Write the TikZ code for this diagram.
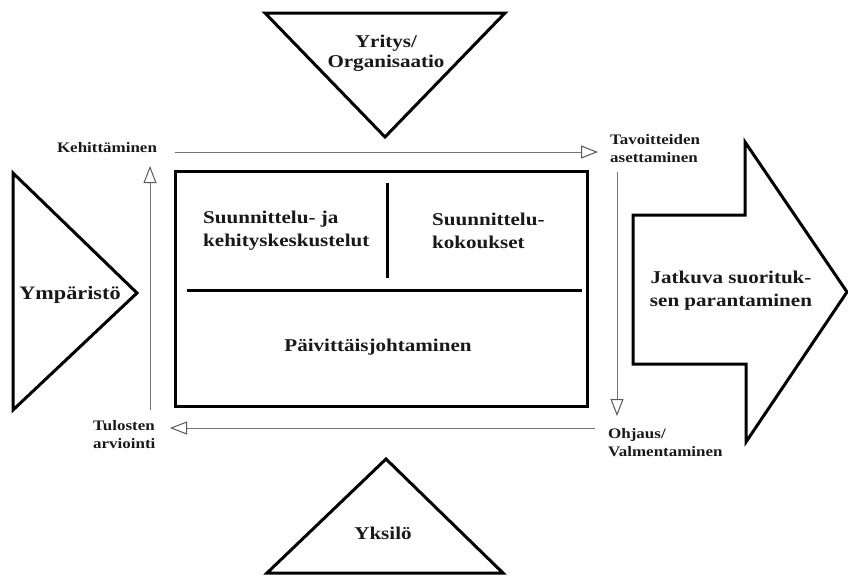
\documentclass[tikz,border=0pt]{standalone}
\usepackage{fontspec}
\setmainfont{Liberation Serif}[FakeStretch=1.17]
\usetikzlibrary{arrows.meta}
\begin{document}
\begin{tikzpicture}[x=1pt,y=-1pt,
  shapeline/.style={draw=black, line width=3pt, line join=miter},
  conn/.style={draw=black!55, line width=1pt, -{Triangle[length=17pt,width=13pt,fill=white,color=black!65]}},
  bigtext/.style={font=\fontsize{18}{23}\selectfont\bfseries, align=left, inner sep=0pt, text=black!90},
  smalltext/.style={font=\fontsize{14.5}{18}\selectfont\bfseries, align=left, inner sep=0pt, text=black!90}]
\useasboundingbox[fill=white] (0,0) rectangle (848,576);

% left triangle (Ympäristö)
\draw[shapeline] (13,173) -- (137,293) -- (13,410) -- cycle;
\node[bigtext, font=\fontsize{19}{23}\selectfont\bfseries] (ymp) at (70,295) {Ympäristö};

% top triangle
\draw[shapeline] (265,13) -- (505,13) -- (385,137) -- cycle;
\node[bigtext, align=center, font=\fontsize{18}{20}\selectfont\bfseries] (yri) at (386,53) {Yritys/\\Organisaatio};

% bottom triangle
\draw[shapeline] (386,459) -- (503,573) -- (267,573) -- cycle;
\node[bigtext] (yks) at (383,533) {Yksilö};

% right arrow
\draw[shapeline] (633,215) -- (745,215) -- (745,142) -- (847,292) -- (746,442) -- (746,364) -- (633,364) -- cycle;
\node[bigtext, align=center] (jat) at (731,290.5) {Jatkuva suorituk-\\sen parantaminen};

% main box
\draw[shapeline] (175,171) rectangle (587,406);
\draw[black, line width=3pt] (187,290) -- (582,290);
\draw[black, line width=3pt] (387,183) -- (387,278);
\node[bigtext, anchor=west] (suk) at (203,230.5) {Suunnittelu- ja\\kehityskeskustelut};
\node[bigtext, anchor=west] (suko) at (432,230.5) {Suunnittelu-\\kokoukset};
\node[bigtext] (paiv) at (378,347) {Päivittäisjohtaminen};

% labels
\node[smalltext] (keh) at (107,148) {Kehittäminen};
\node[smalltext, anchor=west] (tav) at (610,148.5) {Tavoitteiden\\asettaminen};
\node[smalltext, anchor=west] (tul) at (93,434.5) {Tulosten\\arviointi};
\node[smalltext, anchor=west] (ohj) at (608,442.5) {Ohjaus/\\Valmentaminen};

% connector end points
\coordinate (a1) at (175,152);
\coordinate (a2) at (598,152);
\coordinate (b1) at (617,172);
\coordinate (b2) at (617,416);
\coordinate (c1) at (595,428);
\coordinate (c2) at (170,428);
\coordinate (d1) at (150,410);
\coordinate (d2) at (150,166);

\draw[conn] (a1) -- (a2);
\draw[conn] (b1) -- (b2);
\draw[conn] (c1) -- (c2);
\draw[conn] (d1) -- (d2);
\end{tikzpicture}
\end{document}
